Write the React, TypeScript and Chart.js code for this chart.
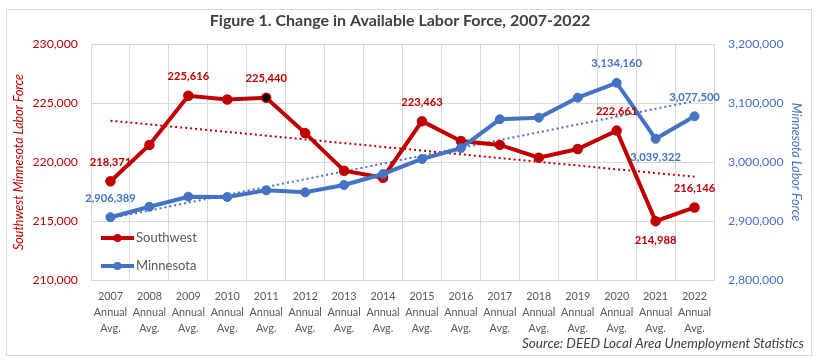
import React, { useEffect, useRef } from 'react';
import { Chart, registerables } from 'chart.js';

Chart.register(...registerables);

const categories = ['2007', '2008', '2009', '2010', '2011', '2012', '2013', '2014', '2015', '2016', '2017', '2018', '2019', '2020', '2021', '2022'];
const xTickLabels = categories.map((y) => [y, 'Annual', 'Avg.']);

const southwest = [218371, 221450, 225616, 225300, 225440, 222450, 219260, 218670, 223463, 221780, 221450, 220370, 221100, 222661, 214988, 216146];
const minnesota = [2906389, 2924200, 2941200, 2940700, 2952000, 2948600, 2961000, 2979700, 3005100, 3023500, 3072400, 3075100, 3109000, 3134160, 3039322, 3077500];

// Linear trend lines: start (2007) and end (2022) values
const southwestTrend = [223500, null, null, null, null, null, null, null, null, null, null, null, null, null, null, 218750];
const minnesotaTrend = [2904600, null, null, null, null, null, null, null, null, null, null, null, null, null, null, 3103400];

const leftMin = 210000;
const leftMax = 230000;
const leftStep = 5000;
const rightMin = 2800000;
const rightMax = 3200000;
const rightStep = 100000;

// Which points carry a value label, and where
const southwestLabelled: [number, 'above' | 'below'][] = [[0, 'above'], [2, 'above'], [4, 'above'], [8, 'above'], [13, 'above'], [14, 'below'], [15, 'above']];
const minnesotaLabelled: [number, 'above' | 'below'][] = [[0, 'above'], [13, 'above'], [14, 'below'], [15, 'above']];

const titleText = 'Figure 1. Change in Available Labor Force, 2007-2022';
const sourceText = 'Source: DEED Local Area Unemployment Statistics';
const leftTitle = 'Southwest Minnesota Labor Force';
const rightTitle = 'Minnesota Labor Force';

const RED = '#C00000';
const BLUE = '#4472C4';
const GRID = '#D9D9D9';
const TEXT = '#595959';
const FONT = 'Lato';

const fmt = (v: number) => v.toLocaleString('en-US');

const decorPlugin = {
  id: 'decor',
  beforeDraw(chart: any) {
    const { ctx, width, height } = chart;
    ctx.save();
    ctx.fillStyle = '#ffffff';
    ctx.fillRect(0, 0, width, height);
    ctx.restore();
  },
  afterDraw(chart: any) {
    const { ctx } = chart;
    ctx.save();
    // frame
    ctx.strokeStyle = GRID;
    ctx.lineWidth = 1;
    ctx.strokeRect(6.5, 9.5, 805, 346);

    // title
    ctx.fillStyle = '#404040';
    ctx.font = `bold 16px ${FONT}`;
    ctx.textAlign = 'center';
    ctx.textBaseline = 'middle';
    ctx.fillText(titleText, 400, 21);

    // source
    ctx.font = `italic 13.5px ${FONT}`;
    ctx.textAlign = 'right';
    ctx.fillStyle = '#404040';
    ctx.fillText(sourceText, 804, 344);

    // data labels
    const drawLabels = (dsIndex: number, list: [number, 'above' | 'below'][], values: number[], color: string) => {
      const meta = chart.getDatasetMeta(dsIndex);
      ctx.font = `bold 11.2px ${FONT}`;
      ctx.textAlign = 'center';
      ctx.textBaseline = 'middle';
      ctx.fillStyle = color;
      list.forEach(([i, pos]) => {
        const el = meta.data[i];
        const y = pos === 'above' ? el.y - 19 : el.y + 19;
        ctx.fillText(fmt(values[i]), el.x, y);
      });
    };
    drawLabels(0, southwestLabelled, southwest, RED);
    drawLabels(1, minnesotaLabelled, minnesota, BLUE);

    // legend
    const items = [
      { label: 'Southwest', color: RED, y: 238 },
      { label: 'Minnesota', color: BLUE, y: 266 },
    ];
    items.forEach((it) => {
      ctx.strokeStyle = it.color;
      ctx.lineWidth = 4;
      ctx.beginPath();
      ctx.moveTo(101, it.y);
      ctx.lineTo(134, it.y);
      ctx.stroke();
      ctx.fillStyle = it.color;
      ctx.beginPath();
      ctx.arc(117.5, it.y, 4, 0, Math.PI * 2);
      ctx.fill();
      ctx.fillStyle = TEXT;
      ctx.font = `13px ${FONT}`;
      ctx.textAlign = 'left';
      ctx.textBaseline = 'middle';
      ctx.fillText(it.label, 136, it.y);
    });
    ctx.restore();
  },
};

export default function App() {
  const canvasRef = useRef<HTMLCanvasElement | null>(null);

  useEffect(() => {
    if (!canvasRef.current) return;
    Chart.defaults.font.family = FONT;
    const chart = new Chart(canvasRef.current, {
      type: 'line',
      data: {
        labels: xTickLabels,
        datasets: [
          {
            label: 'Southwest',
            data: southwest,
            yAxisID: 'y',
            borderColor: RED,
            backgroundColor: RED,
            pointBackgroundColor: southwest.map((_, i) => (i === 4 ? '#000000' : RED)),
            pointBorderColor: RED,
            borderWidth: 4,
            pointRadius: 4.5,
            pointBorderWidth: 1.5,
            tension: 0,
            order: 1,
          },
          {
            label: 'Minnesota',
            data: minnesota,
            yAxisID: 'y1',
            borderColor: BLUE,
            backgroundColor: BLUE,
            borderWidth: 4,
            pointRadius: 4.5,
            pointBorderWidth: 1,
            tension: 0,
            order: 0,
          },
          {
            label: 'Southwest trend',
            data: southwestTrend,
            yAxisID: 'y',
            borderColor: RED,
            borderWidth: 2,
            borderDash: [2, 3],
            pointRadius: 0,
            spanGaps: true,
            order: 2,
          },
          {
            label: 'Minnesota trend',
            data: minnesotaTrend,
            yAxisID: 'y1',
            borderColor: BLUE,
            borderWidth: 2,
            borderDash: [2, 3],
            pointRadius: 0,
            spanGaps: true,
            order: 2,
          },
        ],
      },
      options: {
        responsive: false,
        animation: false,
        devicePixelRatio: 1,
        layout: { padding: { top: 44, left: 0, right: 0, bottom: 0 } },
        plugins: {
          legend: { display: false },
          title: { display: false },
          tooltip: { enabled: false },
        },
        scales: {
          x: {
            type: 'category',
            offset: true,
            grid: { offset: true, color: GRID, drawTicks: false },
            border: { color: GRID },
            ticks: {
              color: TEXT,
              font: { size: 10.8, lineHeight: 1.48 },
              padding: 9,
              maxRotation: 0,
              autoSkip: false,
            },
            afterFit: (s: any) => { s.height = 82; },
          },
          y: {
            position: 'left',
            min: leftMin,
            max: leftMax,
            grid: { color: GRID, drawTicks: false },
            border: { display: true, color: GRID },
            ticks: {
              stepSize: leftStep,
              color: RED,
              font: { size: 12.3 },
              padding: 13,
              callback: (v: any) => fmt(Number(v)),
            },
            title: {
              display: true,
              text: leftTitle,
              color: RED,
              font: { size: 12.5, style: 'italic' },
              padding: { top: 11, bottom: 0 },
            },
            afterFit: (s: any) => { s.width = 91; },
          },
          y1: {
            position: 'right',
            min: rightMin,
            max: rightMax,
            grid: { display: false, drawTicks: false },
            border: { display: false },
            ticks: {
              stepSize: rightStep,
              color: BLUE,
              font: { size: 12.3 },
              padding: 14,
              callback: (v: any) => fmt(Number(v)),
            },
            title: {
              display: true,
              text: rightTitle,
              color: BLUE,
              font: { size: 12.5, style: 'italic' },
              padding: { top: 16, bottom: 0 },
            },
            afterFit: (s: any) => { s.width = 106; },
          },
        },
      },
      plugins: [decorPlugin],
    } as any);
    return () => chart.destroy();
  }, []);

  return (
    <div style={{ position: 'absolute', left: 0, top: 0, width: 820, height: 362 }}>
      <canvas ref={canvasRef} width={820} height={362} style={{ width: 820, height: 362, display: 'block' }} />
    </div>
  );
}
